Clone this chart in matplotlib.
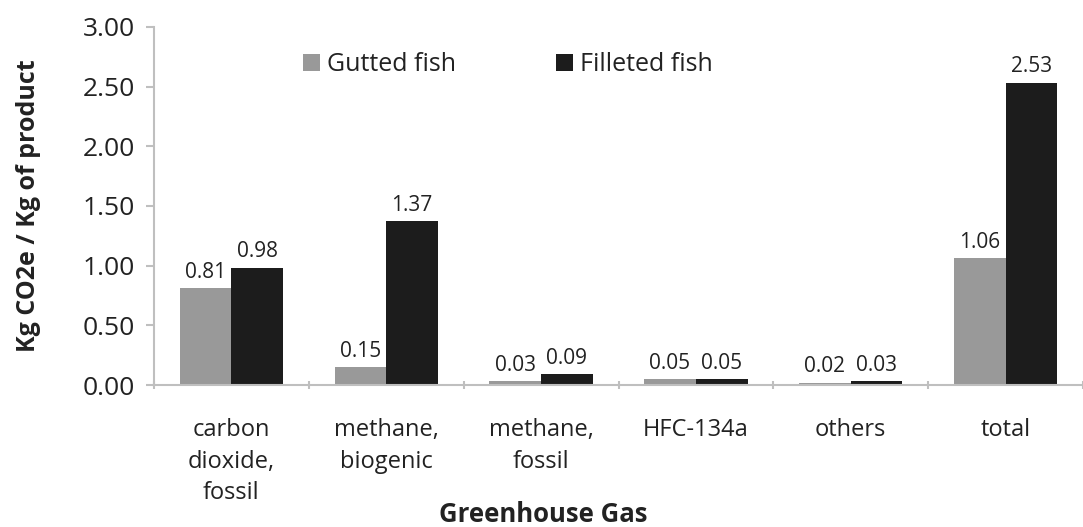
import numpy as np
from matplotlib import pyplot as plt

plt.rcParams['font.family'] = ['Open Sans', 'DejaVu Sans']

gases = ["carbon\ndioxide,\nfossil", "methane,\nbiogenic", "methane,\nfossil",
         "HFC-134a", "others", "total"]
gutted = [0.81, 0.15, 0.03, 0.05, 0.02, 1.06]
filleted = [0.98, 1.37, 0.09, 0.05, 0.03, 2.53]
yticks = [0.0, 0.5, 1.0, 1.5, 2.0, 2.5, 3.0]

fig = plt.figure(figsize=(10.83, 5.27), dpi=100)
ax = fig.add_axes([0.1422, 0.2694, 0.8578, 0.6795])

x = np.arange(len(gases))
w = 0.334
b1 = ax.bar(x - w / 2, gutted, w, color='#999999', label='Gutted fish')
b2 = ax.bar(x + w / 2, filleted, w, color='#1c1c1c', label='Filleted fish')

ax.bar_label(b1, fmt='%.2f', padding=4, fontsize=15, color='#222222')
ax.bar_label(b2, fmt='%.2f', padding=4, fontsize=15, color='#222222')

ax.set_xlim(-0.5, 5.46)
ax.set_ylim(0, 3.0)
ax.set_yticks(yticks)
ax.set_yticklabels([f"{v:.2f}" for v in yticks], fontsize=19, color='#222222')
ax.set_xticks(x)
ax.set_xticklabels(gases, fontsize=17, color='#222222', linespacing=1.42)
ax.set_xticks(np.arange(-0.5, 6.0, 1.0), minor=True)
ax.tick_params(axis='x', which='major', length=0, pad=24)
ax.tick_params(axis='x', which='minor', length=6, color='#bfbfbf', width=1.5, direction='inout')
ax.tick_params(axis='y', length=6, color='#bfbfbf', width=1.5, pad=8)

for side in ['top', 'right']:
    ax.spines[side].set_visible(False)
for side in ['left', 'bottom']:
    ax.spines[side].set_color('#bfbfbf')
    ax.spines[side].set_linewidth(1.5)

fig.text(0.026, 0.609, "Kg CO2e / Kg of product", rotation=90, ha='center', va='center',
         fontsize=18, fontweight='bold', color='#222222')
fig.text(0.502, 0.024, "Greenhouse Gas", ha='center', va='center',
         fontsize=18.5, fontweight='bold', color='#222222')

ax.legend(loc='center left', bbox_to_anchor=(0.2798, 0.8767), bbox_transform=fig.transFigure,
          ncol=2, frameon=False, fontsize=18, handlelength=0.68, handleheight=0.68,
          handletextpad=0.28, columnspacing=4.0, borderpad=0, borderaxespad=0,
          labelcolor='#222222')

fig.savefig('out.png', dpi=100)
